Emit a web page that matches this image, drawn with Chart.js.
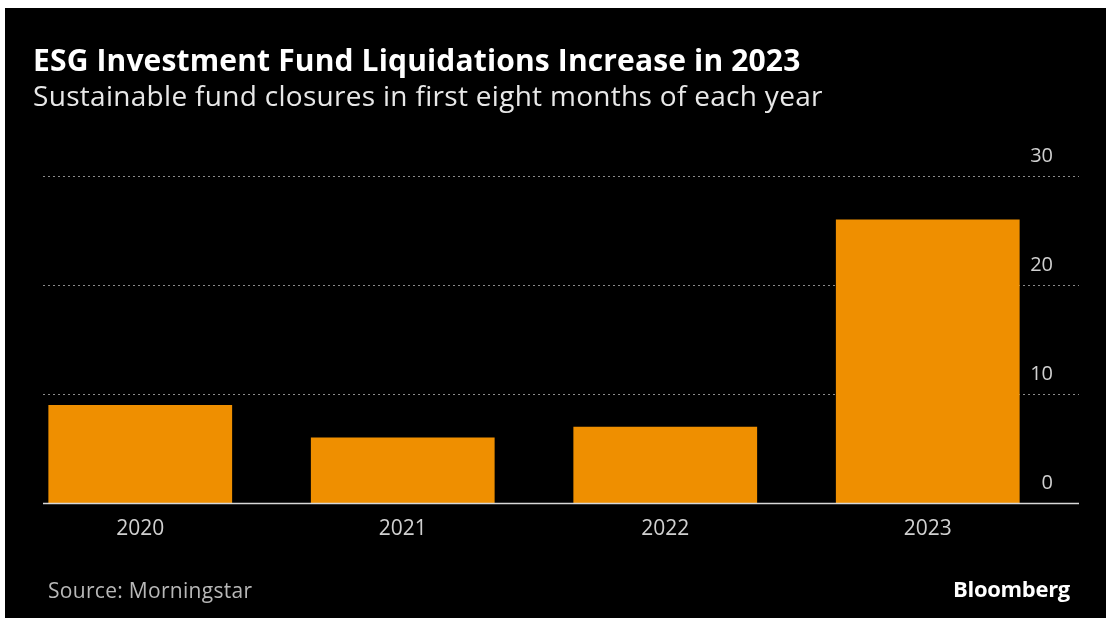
<!DOCTYPE html>
<html>
<head>
<meta charset="utf-8">
<script src="https://cdn.jsdelivr.net/npm/chart.js@4.4.1/dist/chart.umd.min.js"></script>
<style>
  html, body { margin: 0; padding: 0; background: #fff; }
  .panel {
    position: absolute; left: 5px; top: 8px; width: 1101px; height: 610px;
    background: #000; overflow: hidden;
  }
  .panel div { position: absolute; white-space: nowrap; line-height: 1.2; }
  .title {
    left: 28px; top: 34px;
    font: 700 30px "Open Sans", sans-serif; color: #fff; letter-spacing: 0.15px;
  }
  .subtitle {
    left: 28px; top: 71px;
    font: 400 28px "Open Sans", sans-serif; color: #e8e8e8; letter-spacing: 0.3px;
  }
  .source {
    left: 43px; top: 570px;
    font: 400 21px "Open Sans", sans-serif; color: #b8b8b8; letter-spacing: 0.3px;
  }
  .brand {
    right: 36px; top: 567px;
    font: 700 22px "Open Sans", sans-serif; color: #fff; letter-spacing: -0.3px;
  }
  canvas { position: absolute; left: 0; top: 0; }
</style>
</head>
<body>
<div class="panel">
  <canvas id="fundChart" width="1101" height="610"></canvas>
  <div class="title">ESG Investment Fund Liquidations Increase in 2023</div>
  <div class="subtitle">Sustainable fund closures in first eight months of each year</div>
  <div class="source">Source: Morningstar</div>
  <div class="brand">Bloomberg</div>
</div>
<script>
// fund closures, Jan-Aug of each year
const years = ["2020", "2021", "2022", "2023"];
const closures = [9, 6, 7, 26];
const yTicks = [0, 10, 20, 30];

const BAR_COLOR = "#ef8f00";
const LABEL_FONT = '"Open Sans", sans-serif';
const GRID_LEFT = 38;   // grid lines run a little wider than the bars
const GRID_RIGHT = 1074;

// dotted grid + tick labels sitting above each line, zero line on top of bars
const gridPlugin = {
  id: "bbgGrid",
  beforeDatasetsDraw(chart) {
    const { ctx, scales } = chart;
    const y = scales.y;
    ctx.save();
    ctx.strokeStyle = "#8a8a8a";
    ctx.lineWidth = 1;
    ctx.setLineDash([2, 3]);
    yTicks.forEach((v) => {
      if (v === 0) return;
      const py = Math.round(y.getPixelForValue(v)) + 0.5;
      ctx.beginPath();
      ctx.moveTo(GRID_LEFT, py);
      ctx.lineTo(GRID_RIGHT, py);
      ctx.stroke();
    });
    ctx.setLineDash([]);
    ctx.fillStyle = "#d0d0d0";
    ctx.font = "20px " + LABEL_FONT;
    ctx.textAlign = "right";
    ctx.textBaseline = "middle";
    yTicks.forEach((v) => {
      ctx.fillText(String(v), 1048, y.getPixelForValue(v) - 20);
    });
    ctx.restore();
  },
  afterDatasetsDraw(chart) {
    const { ctx, scales } = chart;
    const py = Math.round(scales.y.getPixelForValue(0)) + 0.5;
    ctx.save();
    ctx.strokeStyle = "#d8d8d8";
    ctx.lineWidth = 1.5;
    ctx.beginPath();
    ctx.moveTo(GRID_LEFT, py);
    ctx.lineTo(GRID_RIGHT, py);
    ctx.stroke();
    ctx.restore();
  },
};

new Chart(document.getElementById("fundChart"), {
  type: "bar",
  data: {
    labels: years,
    datasets: [
      {
        data: closures,
        backgroundColor: BAR_COLOR,
        borderWidth: 0,
        barPercentage: 0.7,
        categoryPercentage: 1,
      },
    ],
  },
  options: {
    responsive: false,
    animation: false,
    layout: { padding: { left: 4, right: 47, top: 168, bottom: 0 } },
    plugins: {
      legend: { display: false },
      tooltip: { enabled: false },
    },
    scales: {
      x: {
        grid: { display: false, drawTicks: false },
        border: { display: false },
        ticks: {
          color: "#d0d0d0",
          font: { family: LABEL_FONT, size: 21 },
          padding: 13,
        },
        afterFit: (scale) => {
          scale.height = 115;
        },
      },
      y: {
        display: false,
        min: 0,
        max: 30,
      },
    },
  },
  plugins: [gridPlugin],
});
</script>
</body>
</html>
